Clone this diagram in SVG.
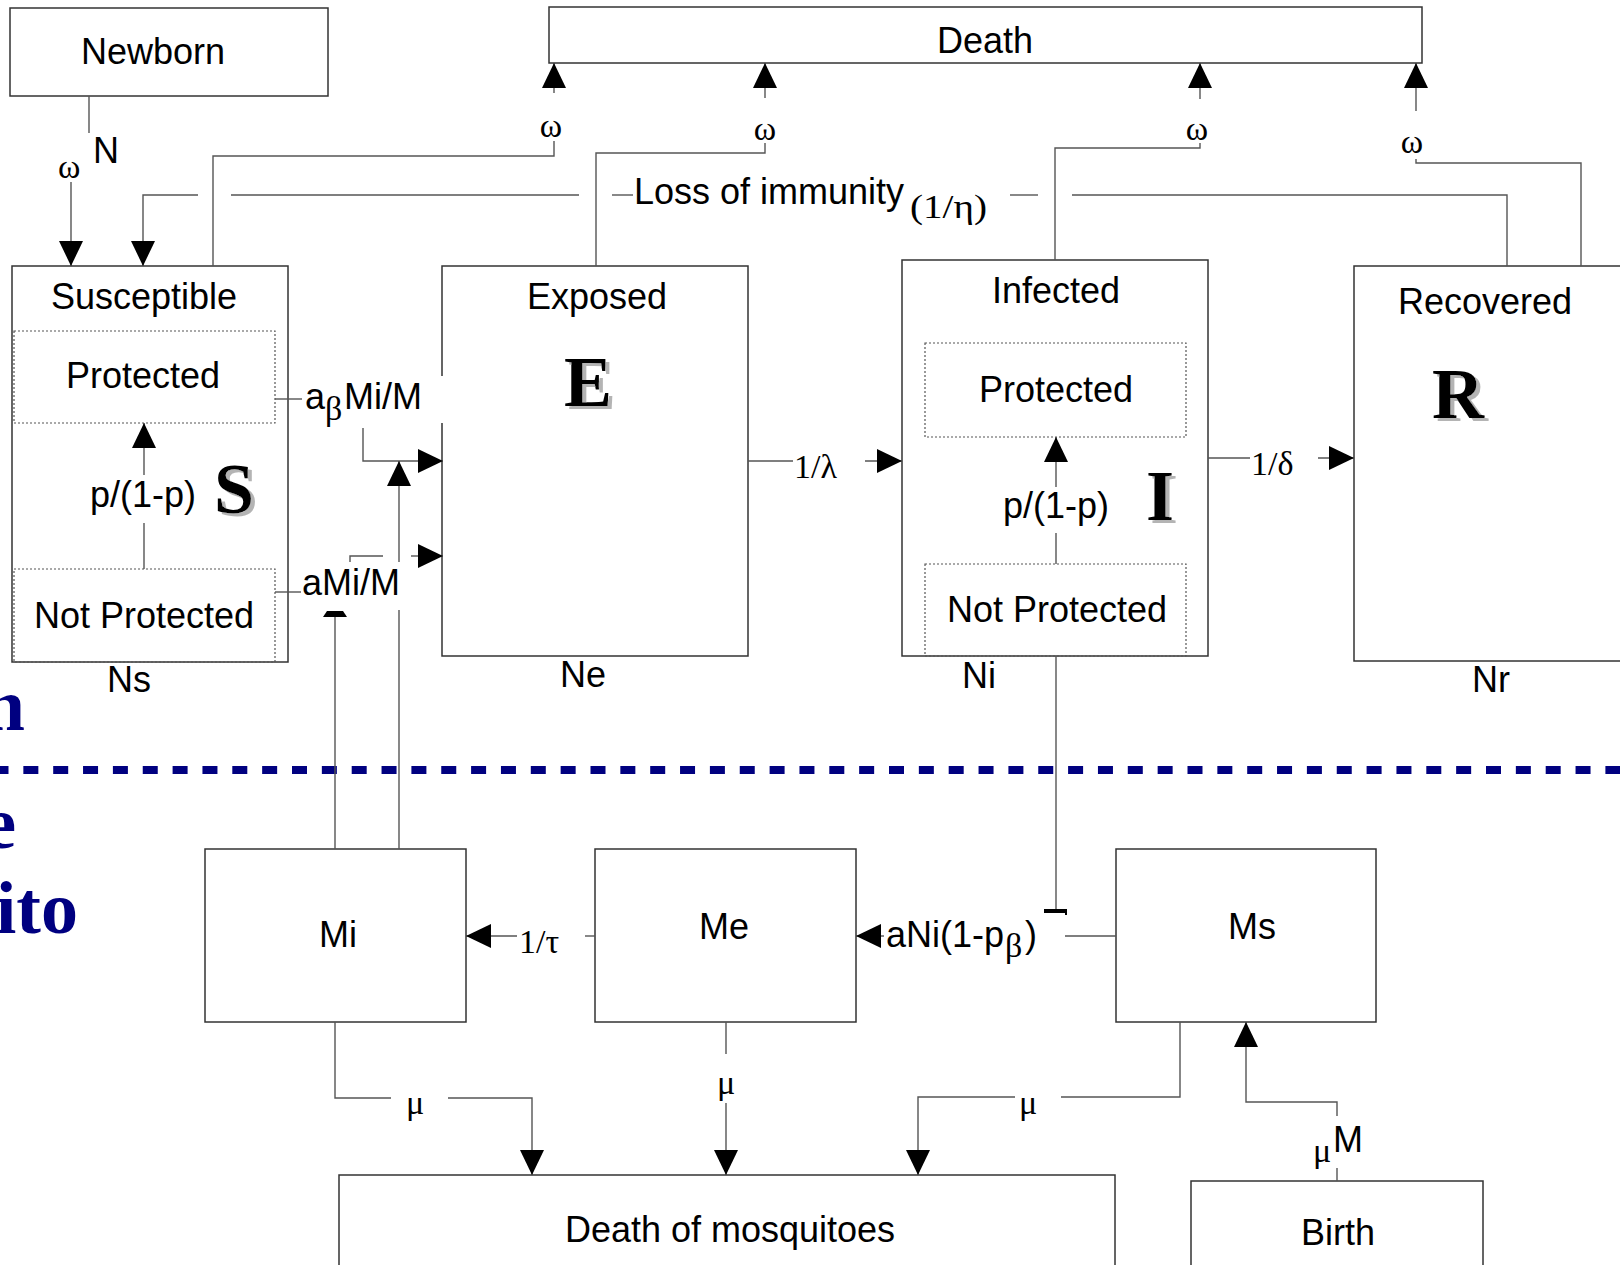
<svg xmlns="http://www.w3.org/2000/svg" width="1620" height="1265" viewBox="0 0 1620 1265">
<defs>
<style>
.box{fill:#fff;stroke:#333;stroke-width:1.5}
.dot{fill:none;stroke:#555;stroke-width:1.2;stroke-dasharray:2 2}
.lbl{font-family:"Liberation Sans",Arial,sans-serif;font-size:36px;fill:#000}
.mid{text-anchor:middle}
.grk{font-family:"Liberation Serif","Times New Roman",serif;font-size:34px;fill:#000}
.big{font-family:"Liberation Serif","Times New Roman",serif;font-weight:bold;font-size:72px;text-anchor:middle;filter:url(#sh)}
.ln{fill:none;stroke:#555;stroke-width:1.4}
.blue{font-family:"Liberation Serif","Times New Roman",serif;font-weight:bold;font-size:74px;fill:#000080;text-anchor:end}
</style>
<filter id="sh" x="-20%" y="-20%" width="150%" height="150%">
<feOffset in="SourceAlpha" dx="4" dy="3" result="off"/>
<feFlood flood-color="#b4b4b4"/>
<feComposite in2="off" operator="in" result="shadow"/>
<feMerge><feMergeNode in="shadow"/><feMergeNode in="SourceGraphic"/></feMerge>
</filter>
<marker id="ah" markerUnits="userSpaceOnUse" markerWidth="25" markerHeight="24" viewBox="0 0 25 24" refX="25" refY="12" orient="auto">
<path d="M0,0 L25,12 L0,24 Z" fill="#000"/>
</marker>
</defs>
<rect width="1620" height="1265" fill="#fff"/>

<g id="background-text">
<text class="blue" x="25" y="730">n</text>
<text class="blue" x="16" y="848">e</text>
<text class="blue" x="78" y="933">ito</text>
<line x1="-6.5" y1="770" x2="1620" y2="770" stroke="#000080" stroke-width="8" stroke-dasharray="15 14.85"/>
</g>

<g id="newborn">
<rect class="box" x="10" y="8" width="318" height="88"/>
<text class="lbl mid" x="153" y="64">Newborn</text>
</g>

<g id="death">
<rect class="box" x="549" y="7" width="873" height="56"/>
<text class="lbl mid" x="985" y="53">Death</text>
</g>

<g id="susceptible">
<rect class="box" x="12" y="266" width="276" height="396"/>
<text class="lbl mid" x="144" y="309">Susceptible</text>
<rect class="dot" x="14" y="331" width="261" height="92"/>
<text class="lbl mid" x="143" y="388">Protected</text>
<rect class="dot" x="14" y="569" width="261" height="93"/>
<text class="lbl mid" x="144" y="628">Not Protected</text>
<text class="big" x="234" y="513">S</text>
<text class="lbl mid" x="129" y="692">Ns</text>
</g>

<g id="exposed">
<path class="box" d="M442,376 V266 H748 V656 H442 V423"/>
<text class="lbl mid" x="597" y="309">Exposed</text>
<text class="big" x="588" y="406">E</text>
<text class="lbl mid" x="583" y="687">Ne</text>
</g>

<g id="infected">
<rect class="box" x="902" y="260" width="306" height="396"/>
<text class="lbl mid" x="1056" y="303">Infected</text>
<rect class="dot" x="925" y="343" width="261" height="94"/>
<text class="lbl mid" x="1056" y="402">Protected</text>
<rect class="dot" x="925" y="564" width="261" height="92"/>
<text class="lbl mid" x="1057" y="622">Not Protected</text>
<text class="big" x="1160" y="520">I</text>
<text class="lbl mid" x="979" y="688">Ni</text>
</g>

<g id="recovered">
<rect class="box" x="1354" y="266" width="300" height="395"/>
<text class="lbl mid" x="1485" y="314">Recovered</text>
<text class="big" x="1458" y="418">R</text>
<text class="lbl mid" x="1491" y="692">Nr</text>
</g>

<g id="mi">
<rect class="box" x="205" y="849" width="261" height="173"/>
<text class="lbl mid" x="338" y="947">Mi</text>
</g>

<g id="me">
<rect class="box" x="595" y="849" width="261" height="173"/>
<text class="lbl mid" x="724" y="939">Me</text>
</g>

<g id="ms">
<rect class="box" x="1116" y="849" width="260" height="173"/>
<text class="lbl mid" x="1252" y="939">Ms</text>
</g>

<g id="death-of-mosquitoes">
<rect class="box" x="339" y="1175" width="776" height="120"/>
<text class="lbl mid" x="730" y="1242">Death of mosquitoes</text>
</g>

<g id="birth">
<rect class="box" x="1191" y="1181" width="292" height="120"/>
<text class="lbl mid" x="1338" y="1245">Birth</text>
</g>

<g id="connectors">
<!-- Newborn to S -->
<path class="ln" d="M89,96 V133"/>
<text class="grk" x="58" y="178">ω</text>
<text class="lbl" x="93" y="163">N</text>
<path class="ln" d="M71,182 V266" marker-end="url(#ah)"/>

<!-- Loss of immunity R to S -->
<path class="ln" d="M1507,266 V195 H1072"/>
<path class="ln" d="M1038,195 H1010"/>
<text class="lbl" x="634" y="204">Loss of immunity</text>
<text class="grk" x="910" y="218" textLength="77" lengthAdjust="spacingAndGlyphs">(1/η)</text>
<path class="ln" d="M633,195 H612"/>
<path class="ln" d="M579,195 H231"/>
<path class="ln" d="M198,195 H143 V266" marker-end="url(#ah)"/>

<!-- deaths -->
<path class="ln" d="M213,266 V156 H554 V141"/>
<text class="grk mid" x="551" y="137">ω</text>
<path class="ln" d="M554,93 V63" marker-end="url(#ah)"/>

<path class="ln" d="M596,266 V153 H765 V143"/>
<text class="grk mid" x="765" y="140">ω</text>
<path class="ln" d="M765,98 V63" marker-end="url(#ah)"/>

<path class="ln" d="M1055,260 V148 H1200 V143"/>
<text class="grk mid" x="1197" y="140">ω</text>
<path class="ln" d="M1200,99 V63" marker-end="url(#ah)"/>

<path class="ln" d="M1581,266 V163 H1416 V159"/>
<text class="grk mid" x="1412" y="153">ω</text>
<path class="ln" d="M1416,111 V63" marker-end="url(#ah)"/>

<!-- S protected to E -->
<path class="ln" d="M275,399 H302"/>
<text class="lbl" x="305" y="409">a</text>
<text class="grk" x="325" y="420" font-size="30">β</text>
<text class="lbl" x="344" y="409">Mi/M</text>
<path class="ln" d="M363,428 V461 H443" marker-end="url(#ah)"/>

<!-- S not protected to E -->
<path class="ln" d="M275,592 H301"/>
<text class="lbl" x="302" y="595">aMi/M</text>
<path class="ln" d="M350,562 V556 H383"/>
<path class="ln" d="M411,556 H443" marker-end="url(#ah)"/>

<!-- Mi up -->
<path class="ln" d="M399,849 V610"/>
<path class="ln" d="M399,562 V461" marker-end="url(#ah)"/>
<path class="ln" d="M335,849 V617"/>
<polygon points="323,617 347,617 343,611 327,611" fill="#000"/>

<!-- E to I -->
<path class="ln" d="M748,461 H793"/>
<text class="grk" x="794" y="478" font-size="38">1/λ</text>
<path class="ln" d="M865,461 H902" marker-end="url(#ah)"/>

<!-- I to R -->
<path class="ln" d="M1208,458 H1250"/>
<text class="grk" x="1251" y="475" font-size="38">1/δ</text>
<path class="ln" d="M1318,458 H1354" marker-end="url(#ah)"/>

<!-- S internal -->
<path class="ln" d="M144,569 V523"/>
<text class="lbl mid" x="143" y="507">p/(1-p)</text>
<path class="ln" d="M144,475 V423" marker-end="url(#ah)"/>

<!-- I internal -->
<path class="ln" d="M1056,564 V533"/>
<text class="lbl mid" x="1056" y="518">p/(1-p)</text>
<path class="ln" d="M1056,487 V437" marker-end="url(#ah)"/>

<!-- Ni to Ms -->
<path class="ln" d="M1056,656 V910"/>
<polygon points="1044,909 1067,909 1067,915 1065,915 1065,913 1044,913" fill="#000"/>

<!-- Ms to Me -->
<path class="ln" d="M1116,936 H1065"/>
<text class="lbl" x="886" y="947">aNi(1-p</text>
<text class="grk" x="1005" y="957" font-size="30">β</text>
<text class="lbl" x="1025" y="947">)</text>
<path class="ln" d="M884,936 H856" marker-end="url(#ah)"/>

<!-- Me to Mi -->
<path class="ln" d="M595,936 H585"/>
<text class="grk" x="519" y="953" font-size="37">1/τ</text>
<path class="ln" d="M517,936 H466" marker-end="url(#ah)"/>

<!-- mosquito deaths -->
<path class="ln" d="M335,1022 V1098 H391"/>
<text class="grk mid" x="415" y="1114">μ</text>
<path class="ln" d="M448,1098 H532 V1175" marker-end="url(#ah)"/>

<path class="ln" d="M726,1022 V1054"/>
<text class="grk mid" x="726" y="1094">μ</text>
<path class="ln" d="M726,1103 V1175" marker-end="url(#ah)"/>

<path class="ln" d="M1180,1022 V1097 H1061"/>
<text class="grk mid" x="1028" y="1114">μ</text>
<path class="ln" d="M1015,1097 H918 V1175" marker-end="url(#ah)"/>

<!-- Birth to Ms -->
<path class="ln" d="M1337,1181 V1168"/>
<text class="grk" x="1313" y="1162" font-size="32">μ</text>
<text class="lbl" x="1333" y="1152">M</text>
<path class="ln" d="M1337,1116 V1102 H1246 V1022" marker-end="url(#ah)"/>
</g>
</svg>
